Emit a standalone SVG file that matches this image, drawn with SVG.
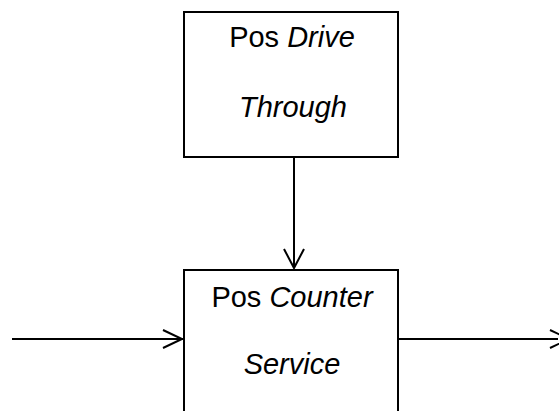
<svg xmlns="http://www.w3.org/2000/svg" width="559" height="411" viewBox="0 0 559 411">
<style>
.box{fill:#fff;stroke:#000;stroke-width:2}
.t{font-family:"Liberation Sans",Arial,sans-serif;font-size:29px;fill:#000;text-anchor:middle}
.i{font-style:italic}
.c{stroke:#000;stroke-width:2;fill:none}
</style>
<g id="connectors">
<line class="c" x1="294" y1="157" x2="294" y2="268"/>
<polyline class="c" points="284,249 294,268 304,249"/>
<line class="c" x1="12" y1="339" x2="183" y2="339"/>
<polyline class="c" points="163,330 182,339 163,348"/>
<line class="c" x1="398" y1="339" x2="558" y2="339"/>
<polyline class="c" points="550,330 569,339 550,348"/>
</g>
<g id="node-drive-through">
<rect class="box" x="184" y="12" width="214" height="145"/>
<text class="t" x="292" y="47">Pos <tspan class="i">Drive</tspan></text>
<text class="t i" x="293" y="117">Through</text>
</g>
<g id="node-counter-service">
<rect class="box" x="184" y="270" width="214" height="160"/>
<text class="t" x="292" y="307">Pos <tspan class="i">Counter</tspan></text>
<text class="t i" x="292" y="374">Service</text>
</g>
</svg>
